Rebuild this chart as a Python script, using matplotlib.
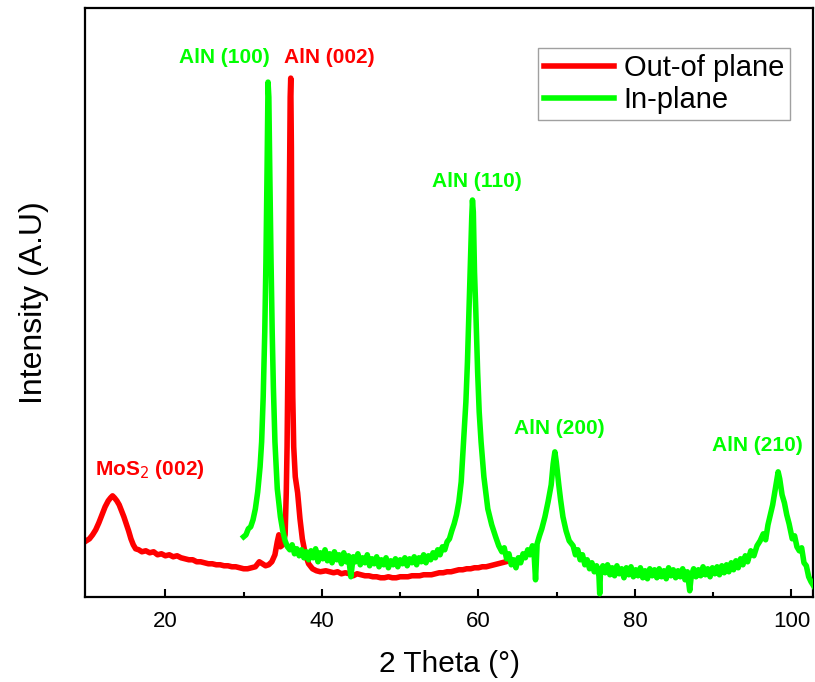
import matplotlib
matplotlib.use("Agg")
import matplotlib.pyplot as plt

plt.rcParams['font.family'] = ['Liberation Sans', 'DejaVu Sans']

# Out-of plane scan (2 theta, intensity in arbitrary units)
oop_theta = [9.9, 10.3, 10.7, 11.1, 11.5, 11.9, 12.3, 12.7, 13.0, 13.25, 13.5, 13.8,
             14.1, 14.4, 14.7, 15.0, 15.3, 15.6, 15.9, 16.2, 16.6, 17.0, 17.5, 18.0,
             18.5, 19.0, 19.5, 20.0, 20.5, 21.0, 21.5, 22.0, 22.5, 23.0, 23.5, 24.0,
             24.5, 25.0, 25.5, 26.0, 26.5, 27.0, 27.5, 28.0, 28.5, 29.0, 29.5, 30.0,
             30.5, 31.0, 31.5, 32.0, 32.4, 32.8, 33.2, 33.6, 34.0, 34.3, 34.5, 34.7,
             35.0, 35.3, 35.45, 35.55, 35.7, 35.85, 35.95, 36.02, 36.1, 36.18, 36.28,
             36.4, 36.6, 36.9, 37.2, 37.5, 37.9, 38.3, 38.8, 39.3, 39.8, 40.5, 41.0,
             41.5, 42.0, 42.5, 43.0, 43.5, 44.0, 44.5, 45.0, 45.5, 46.0, 46.5, 47.0,
             47.5, 48.0, 48.5, 49.0, 49.5, 50.0, 50.5, 51.0, 51.5, 52.0, 52.5, 53.0,
             53.5, 54.0, 54.5, 55.0, 55.5, 56.0, 56.5, 57.0, 57.5, 58.0, 58.5, 59.0,
             59.5, 60.0, 60.5, 61.0, 61.5, 62.0, 62.5, 63.0, 63.5, 64.0]
oop_int = [56, 58, 62, 67, 74, 82, 90, 96, 99, 101, 99, 96,
           92, 86, 80, 73, 66, 58, 52, 48, 47, 45, 46, 44,
           45, 42, 43, 41, 42, 40, 41, 39, 38, 37, 37, 35,
           35, 34, 33, 33, 32, 32, 31, 31, 30, 30, 29, 28,
           28, 29, 30, 35, 33, 31, 32, 35, 42, 55, 62, 50,
           52, 62, 105, 150, 260, 400, 500, 519, 450, 300, 200,
           150, 120, 104, 78, 58, 42, 33, 28, 26, 25, 26, 25,
           24, 25, 23, 24, 23, 21, 23, 22, 21, 21, 20, 20,
           19, 19, 20, 19, 19, 20, 20, 20, 21, 21, 21, 22,
           22, 22, 23, 24, 24, 25, 25, 26, 27, 27, 28, 28,
           29, 29, 30, 30, 31, 32, 33, 34, 35, 36]

# In-plane scan
ip_theta = [30.0, 30.3, 30.6, 30.9, 31.2, 31.5, 31.8, 32.1, 32.3, 32.5, 32.7, 32.85,
            33.0, 33.12, 33.22, 33.35, 33.5, 33.65, 33.8, 34.0, 34.3, 34.7, 35.0, 35.3,
            35.6, 35.9, 36.2, 36.5, 36.8, 37.1, 37.4, 37.7, 38.0, 38.3, 38.6, 38.9,
            39.2, 39.5, 39.8, 40.1, 40.4, 40.7, 41.0, 41.3, 41.6, 41.9, 42.2, 42.5,
            42.8, 43.1, 43.4, 43.7, 44.0, 44.3, 44.6, 44.9, 45.2, 45.5, 45.8, 46.1,
            46.4, 46.7, 47.0, 47.3, 47.6, 47.9, 48.2, 48.5, 48.8, 49.1, 49.4, 49.7,
            50.0, 50.3, 50.6, 50.9, 51.2, 51.5, 51.8, 52.1, 52.4, 52.7, 53.0, 53.3,
            53.6, 53.9, 54.2, 54.5, 54.8, 55.1, 55.4, 55.7, 56.0, 56.3, 56.6, 56.9,
            57.2, 57.5, 57.8, 58.1, 58.4, 58.6, 58.8, 59.0, 59.15, 59.24, 59.35, 59.5,
            59.66, 59.9, 60.1, 60.34, 60.7, 61.2, 61.7, 62.2, 62.6, 63.0, 63.3, 63.6,
            63.9, 64.2, 64.5, 64.8, 65.1, 65.4, 65.7, 66.0, 66.3, 66.6, 66.9, 67.1,
            67.3, 67.5, 67.8, 68.1, 68.5, 68.9, 69.3, 69.55, 69.77, 69.95, 70.27, 70.5,
            70.8, 71.2, 71.6, 72.1, 72.4, 72.7, 73.0, 73.3, 73.6, 73.9, 74.2, 74.5,
            74.8, 75.1, 75.4, 75.5, 75.6, 75.9, 76.2, 76.5, 76.8, 77.1, 77.4, 77.7,
            78.0, 78.3, 78.6, 78.9, 79.2, 79.5, 79.8, 80.1, 80.4, 80.7, 81.0, 81.3,
            81.6, 81.9, 82.2, 82.5, 82.8, 83.1, 83.4, 83.7, 84.0, 84.3, 84.6, 84.9,
            85.2, 85.5, 85.8, 86.1, 86.4, 86.7, 87.0, 87.2, 87.5, 87.8, 88.1, 88.4,
            88.7, 89.0, 89.3, 89.6, 89.9, 90.2, 90.5, 90.8, 91.1, 91.4, 91.7, 92.0,
            92.3, 92.6, 92.9, 93.2, 93.5, 93.8, 94.1, 94.4, 94.8, 95.2, 95.6, 96.0,
            96.4, 96.7, 97.0, 97.3, 97.6, 97.9, 98.1, 98.3, 98.5, 98.8, 99.1, 99.4,
            99.7, 100.1, 100.4, 100.7, 101.0, 101.3, 101.6, 101.9, 102.2, 102.5, 102.9]
ip_int = [60, 62, 68, 70, 77, 88, 105, 130, 155, 200, 265, 335,
          430, 515, 500, 420, 337, 265, 210, 155, 108, 80, 66, 56,
          50, 47, 52, 43, 48, 41, 47, 39, 45, 37, 46, 39,
          48, 35, 44, 38, 47, 36, 43, 34, 45, 37, 42, 33,
          44, 35, 41, 20, 40, 35, 43, 32, 39, 34, 42, 31,
          38, 33, 40, 30, 37, 32, 39, 29, 36, 32, 38, 30,
          37, 33, 39, 31, 38, 34, 40, 32, 39, 35, 42, 34,
          41, 37, 44, 39, 47, 42, 50, 47, 55, 58, 66, 73,
          82, 95, 115, 155, 195, 235, 288, 340, 380, 397, 385, 325,
          288, 225, 185, 155, 120, 88, 72, 60, 51, 45, 49, 38,
          43, 32, 37, 29, 39, 34, 43, 39, 47, 42, 51, 45,
          17, 53, 61, 68, 80, 95, 112, 133, 145, 135, 112, 97,
          80, 66, 56, 51, 42, 47, 37, 42, 32, 37, 28, 34,
          25, 31, 21, 3, 25, 31, 24, 32, 22, 29, 21, 31,
          23, 28, 19, 29, 22, 30, 20, 27, 21, 29, 19, 26,
          18, 28, 21, 27, 19, 28, 20, 26, 18, 29, 21, 27,
          19, 26, 20, 28, 17, 25, 6, 21, 28, 20, 27, 21,
          30, 22, 28, 20, 29, 23, 30, 22, 31, 24, 32, 25,
          34, 27, 36, 29, 38, 32, 41, 35, 46, 41, 51, 56,
          63, 57, 72, 82, 92, 106, 116, 125, 118, 102, 94, 82,
          73, 58, 61, 50, 46, 49, 34, 31, 20, 15, 10]

# peak labels: text, 2theta, intensity, colour
peak_labels = ["AlN (100)", "AlN (002)", "AlN (110)", "AlN (200)", "AlN (210)", "MoS$_2$ (002)"]
peak_x = [27.6, 40.9, 59.8, 70.4, 95.7, 18.0]
peak_y = [540, 540, 416, 168, 151, 127]
peak_colors = ["#00ff00", "#ff0000", "#00ff00", "#00ff00", "#00ff00", "#ff0000"]

fig = plt.figure(figsize=(8.15, 6.82), dpi=100)
ax = fig.add_axes([0.104, 0.125, 0.894, 0.863])

ax.plot(oop_theta, oop_int, color="#ff0000", lw=4, label="Out-of plane", zorder=2)
ax.plot(ip_theta, ip_int, color="#00ff00", lw=4, label="In-plane", zorder=3)

for txt, x, y, c in zip(peak_labels, peak_x, peak_y, peak_colors):
    ax.text(x, y, txt, color=c, fontsize=15, fontweight="bold", ha="center", va="center")

ax.set_xlim(9.7, 102.8)
ax.set_ylim(0, 589)
ax.set_xticks([20, 40, 60, 80, 100])
ax.set_xticks([30, 50, 70, 90], minor=True)
ax.set_yticks([])
ax.tick_params(axis="x", which="major", direction="in", length=6, width=1.5, labelsize=16, pad=10)
ax.tick_params(axis="x", which="minor", direction="in", length=3.5, width=1.5)
for s in ax.spines.values():
    s.set_linewidth(1.6)

ax.set_xlabel("2 Theta (°)", fontsize=21.5, labelpad=13)
ax.set_ylabel("Intensity (A.U)", fontsize=23, labelpad=26)

leg = ax.legend(loc="upper right", bbox_to_anchor=(0.968, 0.932), fontsize=21,
                frameon=True, fancybox=False, edgecolor="#888888", handlelength=2.4,
                handletextpad=0.35, borderpad=0.2, labelspacing=0.15, borderaxespad=0)
leg.get_frame().set_linewidth(1.0)

fig.savefig("out.png", dpi=100)
